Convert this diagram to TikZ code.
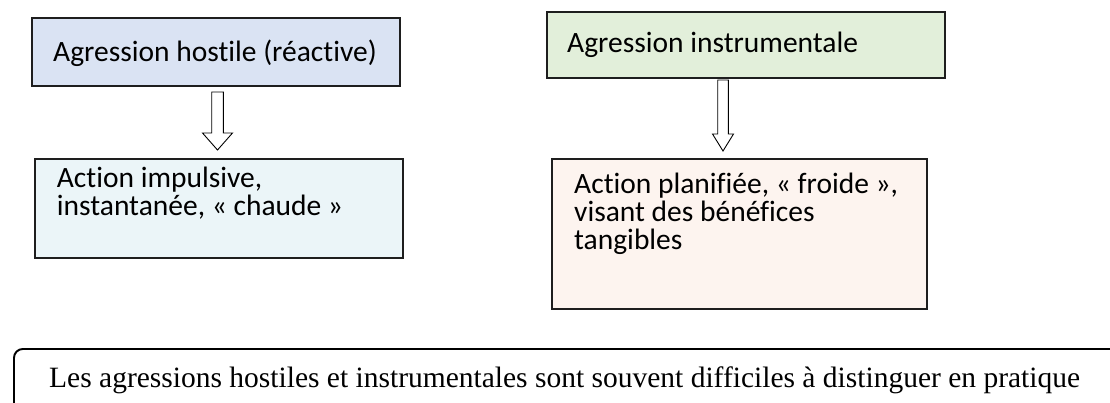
\documentclass[tikz,border=0pt]{standalone}
\usepackage{fontspec}
\setmainfont{Liberation Serif}
\newfontfamily\calibrifont[Ligatures={NoCommon}]{Carlito}
\usetikzlibrary{calc}
\definecolor{bluefill}{HTML}{DAE3F3}
\definecolor{greenfill}{HTML}{E2EFDA}
\definecolor{cyanfill}{HTML}{EBF5F8}
\definecolor{peachfill}{HTML}{FDF4EF}
\definecolor{edge}{HTML}{1E1E1E}
\newcommand{\boxtext}[1]{\parbox[t]{340pt}{\calibrifont\fontsize{29.5}{27.8}\selectfont\lineskiplimit=-100pt\raggedright #1}}
\tikzset{
  box/.style={draw=edge, line width=1.7pt, inner sep=0pt},
  lbl/.style={inner sep=0pt, anchor=base west, font=\calibrifont\fontsize{29.5}{27.8}\selectfont},
  blockarrow/.style={draw=black, line width=0.9pt, fill=white, line join=miter},
  note/.style={inner sep=0pt, anchor=base west, font=\fontsize{29.5}{32}\selectfont}
}
\begin{document}
\begin{tikzpicture}[x=1pt,y=-1pt]
\useasboundingbox (0,0) rectangle (1110,403);
\clip (0,0) rectangle (1110,403);
% boxes
\node[box, fill=bluefill, minimum width=368pt, minimum height=68pt] (b1) at (216,52) {};
\node[box, fill=greenfill, minimum width=398pt, minimum height=66pt] (b2) at (746,45) {};
\node[box, fill=cyanfill, minimum width=368pt, minimum height=99pt] (b3) at (219,208.5) {};
\node[box, fill=peachfill, minimum width=375pt, minimum height=150pt] (b4) at (739.5,234) {};
% labels
\node[lbl] (t1) at (53,61.7) {Agression hostile (réactive)};
\node[lbl] (t2) at (567,53) {Agression instrumentale};
\node[lbl] (t3) at (56.7,188) {\boxtext{Action impulsive,\\instantanée, «~chaude~»}};
\node[lbl] (t4) at (574,194) {\boxtext{Action planifiée, «~froide~»,\\visant des bénéfices\\tangibles}};
% block arrows
\coordinate (a1s) at (217.5,92);
\coordinate (a1e) at (217.5,150);
\coordinate (a2s) at (723,80);
\coordinate (a2e) at (723,151);
\draw[blockarrow] ($(a1s)+(-5.8,0)$) -- ($(a1s)+(5.8,0)$) -- ($(a1e)+(5.8,-17)$) -- ($(a1e)+(15,-17)$) -- (a1e)
  -- ($(a1e)+(-15,-17)$) -- ($(a1e)+(-5.8,-17)$) -- cycle;
\draw[blockarrow] ($(a2s)+(-5.3,0)$) -- ($(a2s)+(5.3,0)$) -- ($(a2e)+(5.3,-17)$) -- ($(a2e)+(10.5,-17)$) -- (a2e)
  -- ($(a2e)+(-10.5,-17)$) -- ($(a2e)+(-5.3,-17)$) -- cycle;
% bottom note frame
\node[draw=black, line width=1.9pt, rounded corners=9pt, minimum width=1300pt, minimum height=200pt, anchor=north west, inner sep=0pt] (b5) at (13,348) {};
\node[note] (t5) at (49,387) {Les agressions hostiles et instrumentales sont souvent difficiles à distinguer en pratique};
\end{tikzpicture}
\end{document}
